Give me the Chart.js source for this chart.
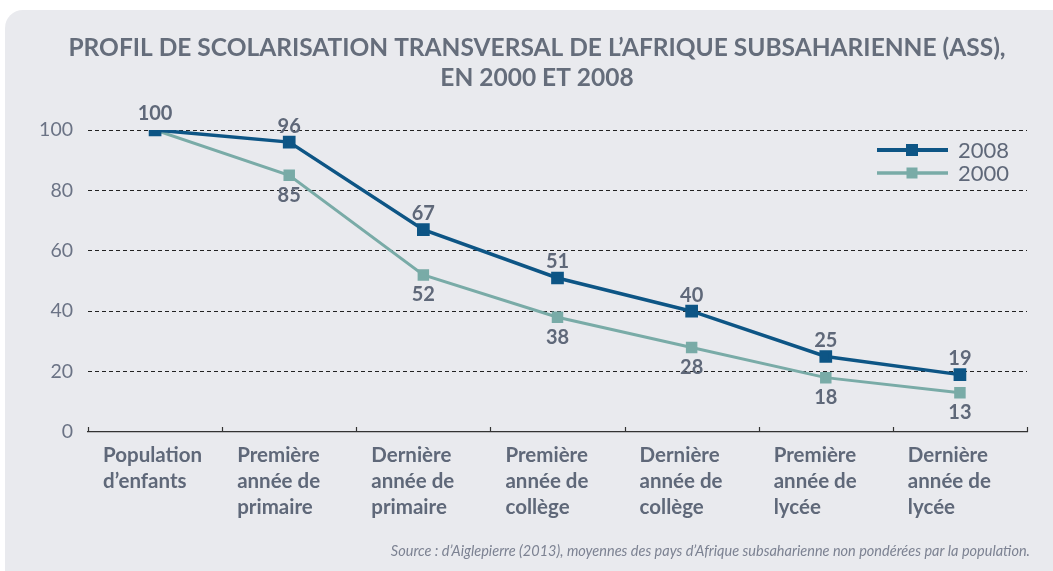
<!DOCTYPE html>
<html>
<head>
<meta charset="utf-8">
<script src="https://cdn.jsdelivr.net/npm/chart.js@4"></script>
<style>
  body { margin: 0; background: #ffffff; }
  canvas { display: block; }
</style>
</head>
<body>
<canvas id="myChart" width="1053" height="571"></canvas>
<script>
    // donnees du graphique

    const categories = [
      ['Population', 'd\u2019enfants'],
      ['Première', 'année de', 'primaire'],
      ['Dernière', 'année de', 'primaire'],
      ['Première', 'année de', 'collège'],
      ['Dernière', 'année de', 'collège'],
      ['Première', 'année de', 'lycée'],
      ['Dernière', 'année de', 'lycée'],
    ];

    const serie2008 = [100, 96, 67, 51, 40, 25, 19];
    const serie2000 = [100, 85, 52, 38, 28, 18, 13];

    const yTicks = [0, 20, 40, 60, 80, 100];

    const titre = [
      'PROFIL DE SCOLARISATION TRANSVERSAL DE L\u2019AFRIQUE SUBSAHARIENNE (ASS),',
      'EN 2000 ET 2008'
    ];
    const source = 'Source : d\u2019Aiglepierre (2013), moyennes des pays d\u2019Afrique subsaharienne non pondérées par la population.';

    const bleu = '#0d5585';
    const vert = '#79aba7';
    const gris = '#5f6879';

    // fond, titre, etiquettes, legende

    const decor = {
      id: 'decor',
      beforeDraw(chart) {
        const ctx = chart.ctx;
        ctx.save();
        ctx.fillStyle = '#ffffff';
        ctx.fillRect(0, 0, chart.width, chart.height);
        ctx.fillStyle = '#e9eaee';
        ctx.beginPath();
        ctx.roundRect(5, 10, chart.width + 20, chart.height + 20, [18, 0, 0, 0]);
        ctx.fill();
        ctx.restore();
      },
      afterDraw(chart) {
        const ctx = chart.ctx;
        const x = chart.scales.x;
        const area = chart.chartArea;
        const step = x.getPixelForValue(1) - x.getPixelForValue(0);
        ctx.save();

        // titre
        ctx.fillStyle = '#656d7b';
        ctx.font = 'bold 24.5px Lato';
        ctx.textAlign = 'center';
        ctx.textBaseline = 'middle';
        titre.forEach((t, j) => ctx.fillText(t, 537, 48 + j * 30));

        // petits traits de l'axe x
        ctx.strokeStyle = '#333';
        ctx.lineWidth = 1.2;
        for (let i = 0; i <= categories.length; i++) {
          const px = Math.round(x.getPixelForValue(0) - step / 2 + i * step) + 0.5;
          ctx.beginPath();
          ctx.moveTo(px, area.bottom);
          ctx.lineTo(px, area.bottom - 5);
          ctx.stroke();
        }

        // etiquettes des categories
        ctx.fillStyle = gris;
        ctx.font = 'bold 20.5px Lato';
        ctx.textAlign = 'left';
        categories.forEach((lines, i) => {
          const left = x.getPixelForValue(i) - step / 2 + 15;
          lines.forEach((t, j) => ctx.fillText(t, left, area.bottom + 23 + j * 26));
        });

        // valeurs des points
        ctx.font = 'bold 20px Lato';
        ctx.textAlign = 'center';
        const m8 = chart.getDatasetMeta(0).data;
        const m0 = chart.getDatasetMeta(1).data;
        serie2008.forEach((v, i) => ctx.fillText(String(v), m8[i].x, m8[i].y - 16));
        serie2000.forEach((v, i) => {
          if (i > 0) ctx.fillText(String(v), m0[i].x, m0[i].y + 20);
        });

        // legende
        const leg = [['2008', bleu, 150, 12, 4], ['2000', vert, 173, 11, 3.5]];
        leg.forEach(([txt, col, y, sz, lw]) => {
          ctx.strokeStyle = col;
          ctx.lineWidth = lw;
          ctx.beginPath();
          ctx.moveTo(877, y);
          ctx.lineTo(948, y);
          ctx.stroke();
          ctx.fillStyle = col;
          ctx.fillRect(912 - sz / 2, y - sz / 2, sz, sz);
          ctx.fillStyle = gris;
          ctx.font = '22px Lato';
          ctx.textAlign = 'left';
          ctx.fillText(txt, 958, y + 1);
        });

        // source
        ctx.font = 'italic 14.5px Lato';
        ctx.fillStyle = '#7c8292';
        ctx.textAlign = 'right';
        ctx.fillText(source, 1030, 551);
        ctx.restore();
      }
    };

    const data = {
      labels: categories,
      datasets: [{
        label: '2008',
        data: serie2008,
        borderColor: bleu,
        backgroundColor: bleu,
        borderWidth: 3.5,
        pointStyle: 'rect',
        pointRadius: 6.5,
        pointHoverRadius: 6.5,
      }, {
        label: '2000',
        data: serie2000,
        borderColor: vert,
        backgroundColor: vert,
        borderWidth: 3,
        pointStyle: 'rect',
        pointRadius: 6,
        pointHoverRadius: 6,
      }]
    };

    const config = {
      type: 'line',
      data: data,
      options: {
        responsive: false,
        animation: false,
        layout: { padding: { top: 130, left: 10, right: 26, bottom: 0 } },
        plugins: {
          legend: { display: false },
          tooltip: { enabled: false },
          title: { display: false }
        },
        scales: {
          x: {
            offset: true,
            grid: { display: false },
            border: { display: true, color: '#333', width: 1.2 },
            ticks: { display: false },
            afterFit(scale) { scale.height = 139; }
          },
          y: {
            min: 0,
            max: 100,
            afterBuildTicks(scale) { scale.ticks = yTicks.map(v => ({ value: v })); },
            grid: {
              color: ctx => ctx.tick && ctx.tick.value === 0 ? 'transparent' : '#222',
              lineWidth: 1,
              drawTicks: false
            },
            border: { display: false, dash: [4, 3] },
            ticks: {
              color: '#6b7385',
              font: { family: 'Lato', size: 19.5 },
              padding: 15
            },
            afterFit(scale) { scale.width = 78; }
          }
        }
      },
      plugins: [decor]
    };

    const myChart = new Chart(document.getElementById('myChart'), config);
</script>
</body>
</html>
